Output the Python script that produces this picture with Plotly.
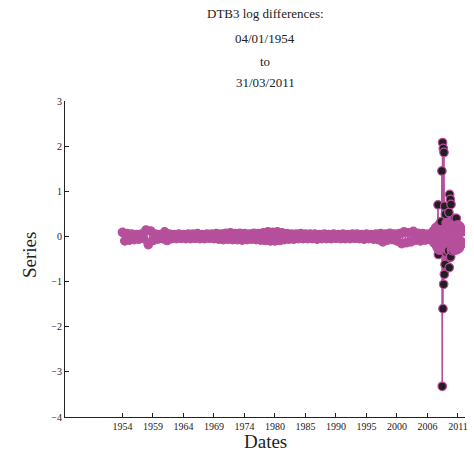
import plotly.graph_objects as go

# ---------------- data ----------------
tick_labels = ["1954", "1959", "1964", "1969", "1974", "1980",
               "1985", "1990", "1995", "2000", "2006", "2011"]
obs_per_tick = 1300

# calm period: one value every 100 observations (obs 0 .. 13200)
calm_step = 100
calm_values = [
    0.09, -0.10, 0.06, -0.08, 0.05, -0.07, 0.04, -0.06, 0.05, -0.05,
    0.14, -0.18, 0.12, -0.09, 0.05, -0.06, 0.04, -0.05, 0.10, -0.09,
    0.05, -0.05, 0.04, -0.05, 0.05, -0.04, 0.04, -0.05, 0.05, -0.05,
    0.05, -0.04, 0.06, -0.05, 0.04, -0.05, 0.05, -0.04, 0.05, -0.05,
    0.06, -0.06, 0.05, -0.07, 0.07, -0.06, 0.08, -0.07, 0.06, -0.07,
    0.07, -0.08, 0.06, -0.07, 0.05, -0.06, 0.07, -0.07, 0.06, -0.08,
    0.08, -0.09, 0.10, -0.10, 0.09, -0.10, 0.10, -0.09, 0.08, -0.07,
    0.06, -0.06, 0.05, -0.06, 0.05, -0.05, 0.06, -0.05, 0.05, -0.05,
    0.05, -0.05, 0.05, -0.06, 0.04, -0.05, 0.05, -0.05, 0.04, -0.05,
    0.05, -0.04, 0.04, -0.05, 0.05, -0.05, 0.04, -0.05, 0.05, -0.04,
    0.05, -0.05, 0.04, -0.06, 0.05, -0.05, 0.04, -0.06, 0.05, -0.07,
    0.06, -0.12, 0.05, -0.08, 0.07, -0.07, 0.05, -0.10, 0.06, -0.16,
    0.10, -0.14, 0.08, -0.12, 0.11, -0.08, 0.07, -0.10, 0.06, -0.08,
    0.05, -0.07, 0.06,
]

# volatile period: one value every 15 observations (from obs 13225)
vol_start = 13225
vol_step = 15
vol_values = [
    0.08, -0.10, 0.12, -0.12, 0.10, -0.15, 0.15, -0.12, 0.18, -0.18,
    0.20, -0.20, 0.15, -0.25, 0.22, 0.70, -0.40, 0.25, -0.30, 0.22,
    -0.25, 0.28, -0.30, 0.25, 0.33, -0.28, 1.45, -3.32, 2.08, -1.60,
    1.95, -1.06, 1.86, -0.84, 0.67, -0.62, 0.49, -0.30, 0.30, -0.35,
    0.28, -0.30, 0.30, -0.28, 0.27, -0.32, 0.53, -0.69, 0.93, -0.47,
    0.82, -0.45, 0.71, -0.30, 0.28, -0.30, 0.25, -0.32, 0.30, -0.28,
    0.25, -0.30, 0.28, 0.40, -0.25, 0.28, -0.30, 0.40, -0.28, 0.25,
    -0.25, 0.22, -0.28, 0.25, -0.22, 0.20, -0.25, 0.22, -0.20, 0.18,
    -0.18, 0.15, -0.12, 0.10,
]

x = [i * calm_step for i in range(len(calm_values))] + \
    [vol_start + i * vol_step for i in range(len(vol_values))]
y = calm_values + vol_values

MAG = "#b6509c"
DARK = "#231f20"
marker_colors = [DARK if abs(v) > 0.31 else MAG for v in y]

tickvals = [i * obs_per_tick for i in range(len(tick_labels))]

fig = go.Figure()
fig.add_trace(go.Scatter(
    x=x, y=y, mode="lines+markers",
    line=dict(color=MAG, width=1.6),
    marker=dict(size=8.5, color=marker_colors, line=dict(color=MAG, width=1.2)),
    showlegend=False,
))

serif = "Liberation Serif, DejaVu Serif, serif"
PT, PB, PL, PR = 101, 417, 65, 465
fig.update_layout(
    width=474, height=454,
    margin=dict(l=PL, r=474 - PR, t=PT, b=454 - PB),
    plot_bgcolor="white", paper_bgcolor="white",
    font=dict(family=serif, color="#222"),
    xaxis=dict(
        range=[-2450, 14600], tickvals=tickvals, ticktext=tick_labels,
        ticks="inside", ticklen=4, tickcolor="#222",
        showline=True, linecolor="#222", linewidth=1,
        showgrid=False, zeroline=False, automargin=False,
        tickfont=dict(size=10, family=serif),
    ),
    yaxis=dict(
        range=[-4, 3], tickvals=[-4, -3, -2, -1, 0, 1, 2, 3],
        ticks="inside", ticklen=4, tickcolor="#222",
        showline=True, linecolor="#222", linewidth=1,
        showgrid=False, zeroline=False, automargin=False,
        tickfont=dict(size=10, family=serif),
    ),
)

W = PR - PL
H = PB - PT
# axis titles
fig.add_annotation(text="Dates", xref="paper", yref="paper",
                   x=(265 - PL) / W, y=(PB - 441) / H,
                   xanchor="center", yanchor="middle", showarrow=False,
                   font=dict(size=19, family=serif, color="#222"))
fig.add_annotation(text="Series", xref="paper", yref="paper",
                   x=(29 - PL) / W, y=(PB - 255) / H, textangle=-90,
                   xanchor="center", yanchor="middle", showarrow=False,
                   font=dict(size=19, family=serif, color="#222"))

title_lines = ["DTB3 log differences:", "04/01/1954", "to", "31/03/2011"]
title_px = [14, 38, 61, 83]
for txt, py in zip(title_lines, title_px):
    fig.add_annotation(
        text=txt, xref="paper", yref="paper",
        x=0.5, y=1 + (PT - py) / H, xanchor="center", yanchor="middle",
        showarrow=False, font=dict(size=13, family=serif, color="#222"),
    )

fig.write_html("out.html")
